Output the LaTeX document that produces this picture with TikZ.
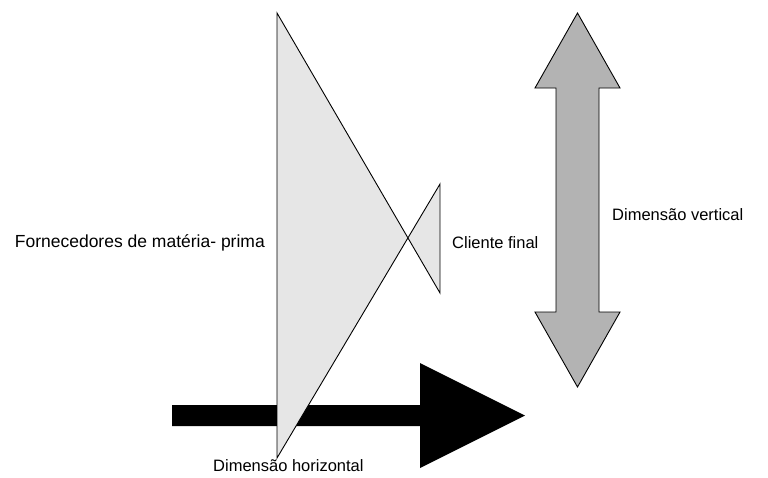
\documentclass[tikz,border=0pt]{standalone}
\usepackage{fontspec}
\setmainfont{Liberation Sans}
\definecolor{funnelfill}{HTML}{E6E6E6}
\definecolor{vertfill}{HTML}{B3B3B3}
\begin{document}
\begin{tikzpicture}[x=1pt,y=-1pt,
  outline/.style={draw=black,line width=0.9pt,line join=miter},
  label/.style={inner sep=0pt,font=\fontsize{16.5}{19}\selectfont}]
\useasboundingbox (0,0) rectangle (768,477);
% horizontal dimension arrow (drawn first, the funnel lies over it)
\fill[black] (172,405) -- (420,405) -- (420,363) -- (525,415.5) -- (420,468)
  -- (420,426) -- (172,426) -- cycle;
% supply chain funnel: suppliers triangle and final customer triangle
\coordinate (s1) at (277,13);
\coordinate (s2) at (277,458);
\coordinate (c1) at (440,184);
\coordinate (c2) at (440,293);
\path[outline,fill=funnelfill] (s1) -- (c2) -- (c1) -- (s2) -- cycle;
% vertical dimension double arrow
\path[outline,fill=vertfill] (577.5,13) -- (620,88) -- (599,88) -- (599,312)
  -- (620,312) -- (577.5,387) -- (535,312) -- (556,312) -- (556,88)
  -- (535,88) -- cycle;
% labels
\node[label,anchor=east,font=\fontsize{17.5}{20}\selectfont] (forn) at (265,243) {Fornecedores de matéria- prima};
\node[label,anchor=west] (cli) at (452,243) {Cliente final};
\node[label,anchor=west] (dv) at (612,215) {Dimensão vertical};
\node[label,anchor=west] (dh) at (213,466) {Dimensão horizontal};
\end{tikzpicture}
\end{document}
